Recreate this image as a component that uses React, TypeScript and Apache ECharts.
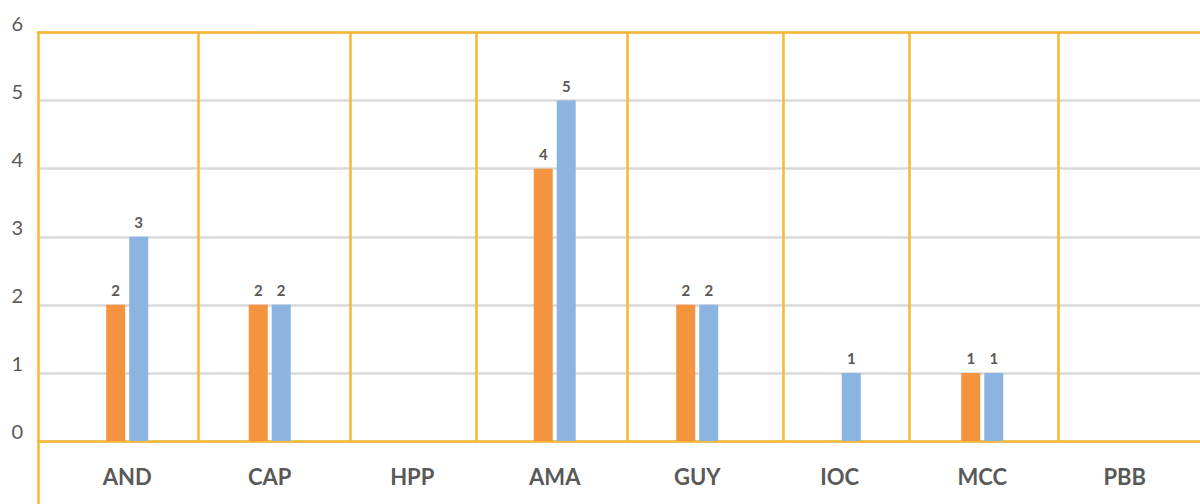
import React, { useEffect, useRef } from "react";
import * as echarts from "echarts";

const categories = ["AND", "CAP", "HPP", "AMA", "GUY", "IOC", "MCC", "PBB"];
const seriesOrange: (number | null)[] = [2, 2, null, 4, 2, null, 1, null];
const seriesBlue: (number | null)[] = [3, 2, null, 5, 2, 1, 1, null];
const yTicks = [0, 1, 2, 3, 4, 5, 6];
// decorative separator positions, in category units
const separatorPositions = [0.499, 1.5635, 2.4477, 3.5074, 4.604, 5.486, 6.53];
const X_MIN = -0.626;
const X_MAX = 7.528;

const ORANGE_FRAME = "#F9B832";
const BAR_ORANGE = "#F4943F";
const BAR_BLUE = "#8CB4E0";
const TEXT = "#595959";
const FONT = "Lato";

function toPairs(vals: (number | null)[]) {
  const out: [number, number][] = [];
  vals.forEach((v, i) => {
    if (v !== null) out.push([i, v]);
  });
  return out;
}

export default function App() {
  const ref = useRef<HTMLDivElement>(null);
  useEffect(() => {
    if (!ref.current) return;
    const chart = echarts.init(ref.current, undefined, { renderer: "svg" });
    const label = {
      show: true,
      position: "top",
      distance: 7,
      fontFamily: FONT,
      fontWeight: "bold",
      fontSize: 15,
      color: TEXT,
      formatter: (p: any) => String(p.value[1]),
    };
    chart.setOption({
      animation: false,
      backgroundColor: "#ffffff",
      grid: { left: 38, right: 0, top: 32.5, bottom: 63, containLabel: false },
      xAxis: [
        {
          type: "value",
          min: X_MIN,
          max: X_MAX,
          position: "bottom",
          z: 3,
          axisLine: { show: true, onZero: true, lineStyle: { color: ORANGE_FRAME, width: 2.5 } },
          axisTick: {
            show: true,
            customValues: [X_MIN],
            length: 63,
            inside: false,
            lineStyle: { color: ORANGE_FRAME, width: 2.5 },
          },
          axisLabel: {
            show: true,
            customValues: categories.map((_, i) => i),
            formatter: (v: number) => categories[Math.round(v)] ?? "",
            fontFamily: FONT,
            fontWeight: "bold",
            fontSize: 22,
            color: TEXT,
            margin: 24,
          },
          splitLine: { show: false },
        },
        {
          type: "value",
          min: X_MIN,
          max: X_MAX,
          position: "top",
          z: 3,
          axisLine: { show: true, onZero: false, lineStyle: { color: ORANGE_FRAME, width: 2.5 } },
          axisTick: { show: false, customValues: separatorPositions },
          axisLabel: { show: false },
          splitLine: { show: true, lineStyle: { color: ORANGE_FRAME, width: 2.5 } },
        },
      ],
      yAxis: {
        type: "value",
        min: yTicks[0],
        max: yTicks[yTicks.length - 1],
        interval: 1,
        z: 3,
        axisLine: { show: true, onZero: false, lineStyle: { color: ORANGE_FRAME, width: 2.5 } },
        axisTick: { show: false },
        axisLabel: {
          fontFamily: FONT,
          fontSize: 20,
          color: TEXT,
          margin: 15,
          verticalAlign: "bottom",
        },
        splitLine: { show: true, lineStyle: { color: "#D9D9D9", width: 2.5 } },
      },
      series: [
        {
          type: "bar",
          xAxisIndex: 0,
          data: toPairs(seriesOrange),
          barWidth: 19,
          barGap: "21%",
          itemStyle: { color: BAR_ORANGE },
          label,
          z: 4,
        },
        {
          type: "bar",
          xAxisIndex: 0,
          data: toPairs(seriesBlue),
          barWidth: 19,
          barGap: "21%",
          itemStyle: { color: BAR_BLUE },
          label,
          z: 4,
        },
      ],
    });
    return () => chart.dispose();
  }, []);
  return (
    <div
      ref={ref}
      style={{ position: "fixed", left: 0, top: 0, width: 1200, height: 504 }}
    />
  );
}
